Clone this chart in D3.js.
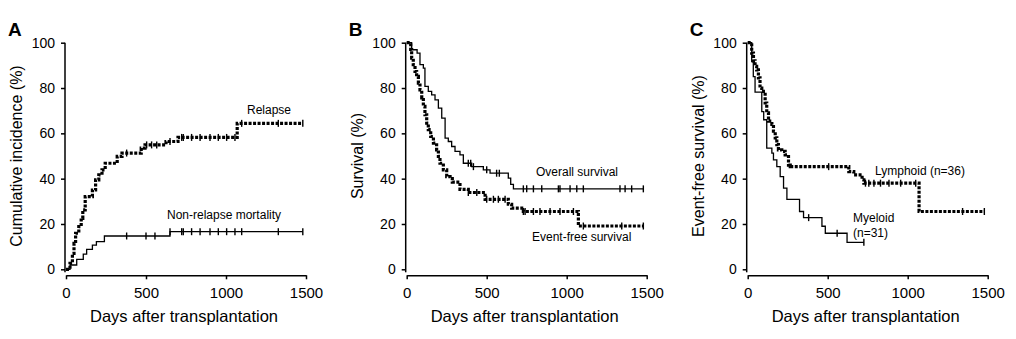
<!DOCTYPE html>
<html>
<head>
<meta charset="utf-8">
<script src="https://cdn.jsdelivr.net/npm/d3@7"></script>
<style>
  body { margin: 0; background: #fff; }
  svg text { font-family: "Liberation Sans", Arial, sans-serif; fill: #000; }
</style>
</head>
<body>
<div id="chart"></div>
<script>
// ticks
var xTicks = [0, 500, 1000, 1500];
var yTicks = [0, 20, 40, 60, 80, 100];

// panel A - cumulative incidence, steps are [day, %]
var relapse = [[0,0],[25,2.6],[40,7],[50,11.5],[60,15.9],[80,18.8],[95,22.5],[105,26.2],[120,32.1],[165,35],[185,39.5],[205,41.7],[225,43.9],[245,46.8],[320,49.8],[350,51.3],[470,53.5],[494,54.9],[625,56.4],[700,58.2],[1070,64.4],[1480,64.4]];
var relapseCens = [379, 504, 535, 567, 650, 723, 733, 785, 838, 900, 952, 1004, 1056, 1098, 1327, 1480];
var nrm = [[0,0],[25,1.9],[67,4.4],[108,6.7],[129,8.8],[165,10.7],[190,12.2],[240,14.7],[650,16.6],[1480,16.6]];
var nrmCens = [379, 500, 556, 650, 723, 733, 785, 838, 900, 952, 1004, 1056, 1098, 1327, 1480];

// panel B - survival
var os = [[0,100],[31,96.9],[65,95.4],[83,90.3],[104,88.8],[114,80.7],[135,78.5],[156,77],[177,74.8],[198,71.1],[219,66.7],[240,57.9],[260,56.4],[281,54.2],[302,52],[333,50.5],[354,46.8],[406,45.3],[479,43.9],[521,42.4],[635,40.2],[650,37.5],[667,35.5],[1479,35.5]];
var osCens = [385, 400, 417, 500, 562, 579, 729, 750, 792, 844, 948, 958, 1021, 1063, 1104, 1333, 1365, 1406, 1479];
var efs = [[0,100],[25,97],[31,93.2],[41,90.3],[52,87.3],[62,85.1],[73,82.2],[83,79.2],[94,75.6],[104,71.9],[114,68.2],[125,64.5],[135,61.6],[150,58.6],[167,55.7],[187,52.7],[198,49.8],[208,46.8],[229,43.9],[250,40.9],[271,40],[285,38.5],[333,35.3],[385,33.9],[490,30.9],[635,28.7],[656,27],[729,25.5],[1073,19.1],[1479,19.1]];
var efsCens = [385, 438, 500, 542, 573, 615, 729, 740, 792, 833, 896, 958, 1042, 1104, 1344, 1479];

// panel C - event-free survival by lineage
var lymphoid = [[0,100],[25,95.4],[36,92],[46,89.6],[56,88],[67,84.5],[77,80],[88,78.5],[109,73.4],[119,69],[130,65.4],[151,63.9],[161,61],[172,58],[182,55],[192,52.7],[213,52],[234,50.5],[255,46],[266,45.3],[632,43.1],[663,41.7],[715,39.5],[726,38],[1071,25.5],[1479,25.5]];
var lymphoidCens = [506, 736, 757, 789, 830, 883, 956, 1050, 1343, 1479];
var myeloid = [[0,100],[25,91.7],[35,85],[46,78.2],[88,69.6],[100,66],[119,53.5],[151,51.3],[161,48.3],[182,45.3],[203,40.9],[224,35.8],[245,30.9],[324,25.5],[349,22.8],[464,19],[485,15.9],[621,11.9],[726,11.9]];
var myeloidCens = [381, 559, 726];

var W = 1016, H = 339;
var svg = d3.select("#chart").append("svg")
    .attr("width", W)
    .attr("height", H);

var yTop = 42.7, yBottom = 269.3;

function drawPanel(opt) {
    var g = svg.append("g");

    var x = d3.scaleLinear().domain([0, 1500]).range([opt.x0, opt.x0 + 240]);
    var y = d3.scaleLinear().domain([0, 100]).range([yBottom, yTop]);

    // axes
    var xAxis = d3.axisBottom(x).tickValues(xTicks).tickFormat(d3.format("d"))
        .tickSize(4).tickSizeOuter(0).tickPadding(8);
    var yAxis = d3.axisLeft(y).tickValues(yTicks).tickFormat(d3.format("d"))
        .tickSize(4).tickSizeOuter(0).tickPadding(6);

    var gx = g.append("g")
        .attr("transform", "translate(0," + (yBottom + 6) + ")")
        .call(xAxis);
    var gy = g.append("g")
        .attr("transform", "translate(" + (opt.x0 - 1) + ",0)")
        .call(yAxis);
    gx.selectAll("text").style("font-size", "15px").attr("fill", "#000");
    gy.selectAll("text").style("font-size", "14px").attr("fill", "#000");
    [gx, gy].forEach(function(a) {
        a.selectAll("line").attr("stroke", "#000").attr("stroke-width", 1.5);
        a.select(".domain").attr("stroke", "#000").attr("stroke-width", 1.5);
    });
    // y axis runs a bit below the zero tick
    gy.select(".domain").attr("d", "M0," + yTop + "V" + (yBottom + 3));

    // titles
    g.append("text")
        .attr("x", opt.x0 + 118)
        .attr("y", 322)
        .attr("text-anchor", "middle")
        .style("font-size", "16.5px")
        .text("Days after transplantation");
    g.append("text")
        .attr("transform", "translate(" + (opt.x0 - 44) + "," + ((yTop + yBottom) / 2) + ") rotate(-90)")
        .attr("text-anchor", "middle")
        .style("font-size", "16px")
        .text(opt.ytitle);
    g.append("text")
        .attr("x", opt.x0 - 58)
        .attr("y", 36)
        .style("font-size", "19px")
        .style("font-weight", "bold")
        .text(opt.letter);

    var line = d3.line()
        .x(function(d) { return x(d[0]); })
        .y(function(d) { return y(d[1]); })
        .curve(d3.curveStepAfter);

    opt.series.forEach(function(s) {
        g.append("path")
            .datum(s.data)
            .attr("d", line)
            .attr("fill", "none")
            .attr("stroke", "#000")
            .attr("stroke-width", s.dashed ? 3.2 : 1.3)
            .attr("stroke-dasharray", s.dashed ? "3,1.5" : null);

        // censor marks
        var bis = d3.bisector(function(d) { return d[0]; }).right;
        g.selectAll(null)
            .data(s.cens)
            .enter()
            .append("line")
            .attr("x1", function(d) { return x(d); })
            .attr("x2", function(d) { return x(d); })
            .attr("y1", function(d) { return y(s.data[Math.max(0, bis(s.data, d) - 1)][1]) - 3.5; })
            .attr("y2", function(d) { return y(s.data[Math.max(0, bis(s.data, d) - 1)][1]) + 3.5; })
            .attr("stroke", "#000")
            .attr("stroke-width", 1.4);
    });

    opt.labels.forEach(function(l) {
        g.append("text")
            .attr("x", l.x)
            .attr("y", l.y)
            .style("font-size", "12px")
            .text(l.text);
    });
}

drawPanel({
    x0: 66, letter: "A", ytitle: "Cumulative incidence (%)",
    series: [
        {data: relapse, cens: relapseCens, dashed: true},
        {data: nrm, cens: nrmCens, dashed: false}
    ],
    labels: [
        {x: 247, y: 114, text: "Relapse"},
        {x: 167, y: 219, text: "Non-relapse mortality"}
    ]
});

drawPanel({
    x0: 406.7, letter: "B", ytitle: "Survival (%)",
    series: [
        {data: efs, cens: efsCens, dashed: true},
        {data: os, cens: osCens, dashed: false}
    ],
    labels: [
        {x: 536, y: 176, text: "Overall survival"},
        {x: 532, y: 241, text: "Event-free survival"}
    ]
});

drawPanel({
    x0: 747.7, letter: "C", ytitle: "Event-free survival (%)",
    series: [
        {data: lymphoid, cens: lymphoidCens, dashed: true},
        {data: myeloid, cens: myeloidCens, dashed: false}
    ],
    labels: [
        {x: 875, y: 175, text: "Lymphoid (n=36)"},
        {x: 853, y: 222, text: "Myeloid"},
        {x: 853, y: 237, text: "(n=31)"}
    ]
});
</script>
</body>
</html>
